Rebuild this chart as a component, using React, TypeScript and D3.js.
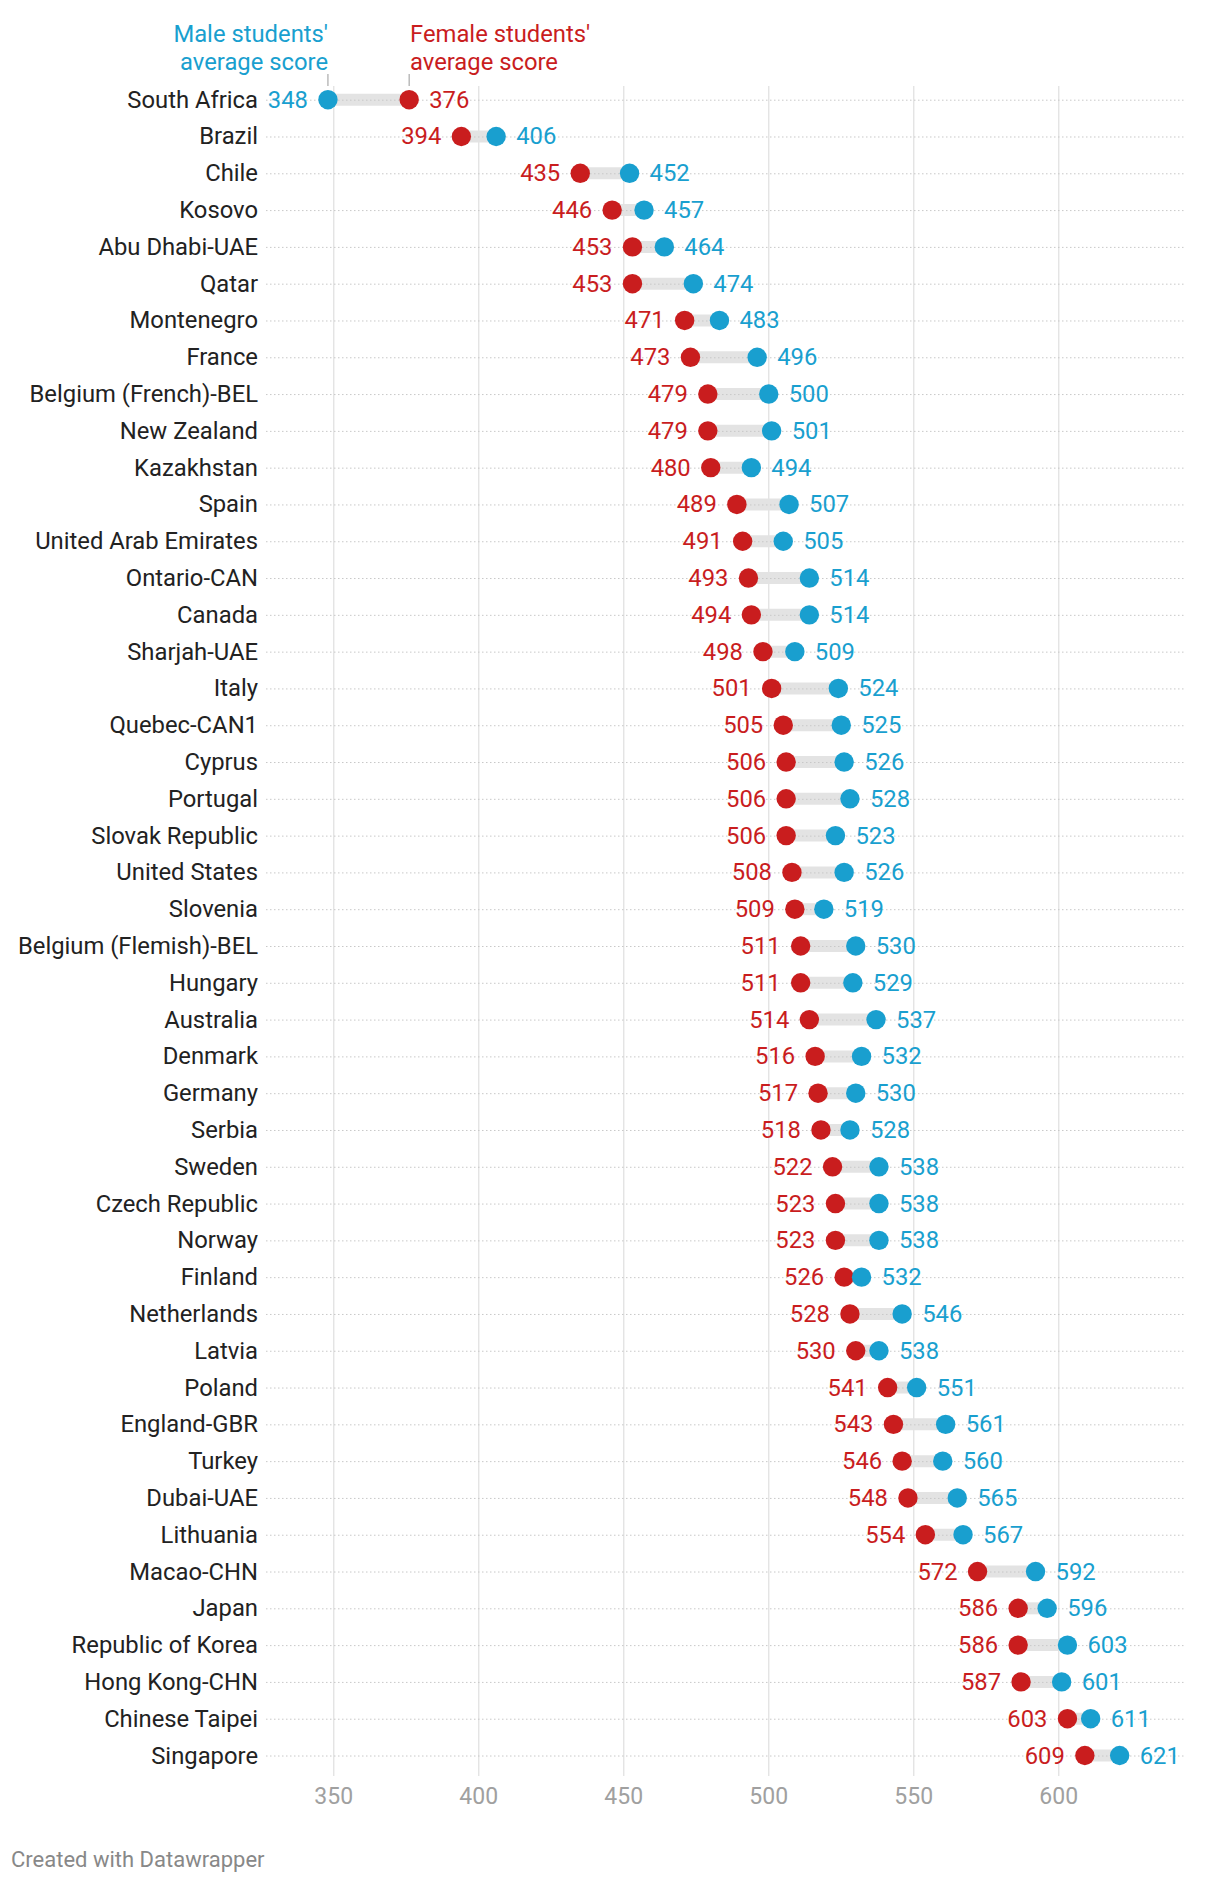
import React from "react";
import * as d3 from "d3";

const countries = [
  "South Africa", "Brazil", "Chile", "Kosovo", "Abu Dhabi-UAE", "Qatar", "Montenegro", "France",
  "Belgium (French)-BEL", "New Zealand", "Kazakhstan", "Spain", "United Arab Emirates", "Ontario-CAN",
  "Canada", "Sharjah-UAE", "Italy", "Quebec-CAN1", "Cyprus", "Portugal", "Slovak Republic",
  "United States", "Slovenia", "Belgium (Flemish)-BEL", "Hungary", "Australia", "Denmark", "Germany",
  "Serbia", "Sweden", "Czech Republic", "Norway", "Finland", "Netherlands", "Latvia", "Poland",
  "England-GBR", "Turkey", "Dubai-UAE", "Lithuania", "Macao-CHN", "Japan", "Republic of Korea",
  "Hong Kong-CHN", "Chinese Taipei", "Singapore",
];
const female = [
  376, 394, 435, 446, 453, 453, 471, 473, 479, 479, 480, 489, 491, 493, 494, 498, 501, 505, 506, 506,
  506, 508, 509, 511, 511, 514, 516, 517, 518, 522, 523, 523, 526, 528, 530, 541, 543, 546, 548, 554,
  572, 586, 586, 587, 603, 609,
];
const male = [
  348, 406, 452, 457, 464, 474, 483, 496, 500, 501, 494, 507, 505, 514, 514, 509, 524, 525, 526, 528,
  523, 526, 519, 530, 529, 537, 532, 530, 528, 538, 538, 538, 532, 546, 538, 551, 561, 560, 565, 567,
  592, 596, 603, 601, 611, 621,
];
const xTicks = [350, 400, 450, 500, 550, 600];

const BLUE = "#199fcf";
const RED = "#c91d1e";
const FONT = "Roboto, 'Noto Sans', sans-serif";

export default function App() {
  const x = d3.scaleLinear().domain([350, 600]).range([333.75, 1058.75]);
  const y = d3
    .scalePoint<string>()
    .domain(countries)
    .range([99.7, 1755.5]);
  const lineX0 = 266;
  const lineX1 = 1186;
  const gridTop = 86;
  const gridBottom = 1776;
  const r = 9.7;
  const fs = 23.8;

  const rows = countries.map((c, i) => ({ c, f: female[i], m: male[i] }));

  return (
    <svg
      width={1220}
      height={1882}
      style={{ position: "absolute", left: 0, top: 0, background: "#fff" }}
      fontFamily={FONT}
    >
      {/* vertical gridlines */}
      {xTicks.map((t) => (
        <g key={t}>
          <line x1={x(t)} x2={x(t)} y1={gridTop} y2={gridBottom} stroke="#e1e1e1" strokeWidth={1.3} />
          <text x={x(t)} y={1796} textAnchor="middle" dominantBaseline="central" fontSize={23} fill="#a0a0a0">
            {t}
          </text>
        </g>
      ))}
      {/* bars */}
      {rows.map((d) => (
        <line
          key={"b" + d.c}
          x1={x(Math.min(d.f, d.m))}
          x2={x(Math.max(d.f, d.m))}
          y1={y(d.c)}
          y2={y(d.c)}
          stroke="#e3e3e3"
          strokeWidth={12}
        />
      ))}
      {/* dotted row lines */}
      {rows.map((d) => (
        <line
          key={"l" + d.c}
          x1={lineX0}
          x2={lineX1}
          y1={(y(d.c) as number) + 0.5}
          y2={(y(d.c) as number) + 0.5}
          stroke="#c8c8c8"
          strokeWidth={1}
          strokeDasharray="1.5,2.5"
        />
      ))}
      {/* country labels */}
      {rows.map((d) => (
        <text
          key={"c" + d.c}
          x={258}
          y={y(d.c)}
          textAnchor="end"
          dominantBaseline="central"
          fontSize={fs}
          fill="#222"
        >
          {d.c}
        </text>
      ))}
      {/* dots and value labels */}
      {rows.map((d) => {
        const lo = Math.min(d.f, d.m);
        const hi = Math.max(d.f, d.m);
        const loColor = d.f <= d.m ? RED : BLUE;
        const hiColor = d.f <= d.m ? BLUE : RED;
        const yy = y(d.c) as number;
        return (
          <g key={"d" + d.c}>
            <circle cx={x(d.f)} cy={yy} r={r} fill={RED} />
            <circle cx={x(d.m)} cy={yy} r={r} fill={BLUE} />
            <text x={x(lo) - 20} y={yy} textAnchor="end" dominantBaseline="central" fontSize={fs} fill={loColor}>
              {lo}
            </text>
            <text x={x(hi) + 20} y={yy} textAnchor="start" dominantBaseline="central" fontSize={fs} fill={hiColor}>
              {hi}
            </text>
          </g>
        );
      })}
      {/* legend annotations */}
      <line x1={x(male[0])} x2={x(male[0])} y1={74} y2={86} stroke="#999" strokeWidth={1} />
      <line x1={x(female[0])} x2={x(female[0])} y1={74} y2={86} stroke="#999" strokeWidth={1} />
      <text x={328} y={34} textAnchor="end" dominantBaseline="central" fontSize={fs} fill={BLUE}>
        Male students'
      </text>
      <text x={328} y={62} textAnchor="end" dominantBaseline="central" fontSize={fs} fill={BLUE}>
        average score
      </text>
      <text x={410} y={34} textAnchor="start" dominantBaseline="central" fontSize={fs} fill={RED}>
        Female students'
      </text>
      <text x={410} y={62} textAnchor="start" dominantBaseline="central" fontSize={fs} fill={RED}>
        average score
      </text>
      {/* footer */}
      <text x={11} y={1859} dominantBaseline="central" fontSize={22} fill="#888">
        Created with Datawrapper
      </text>
    </svg>
  );
}
